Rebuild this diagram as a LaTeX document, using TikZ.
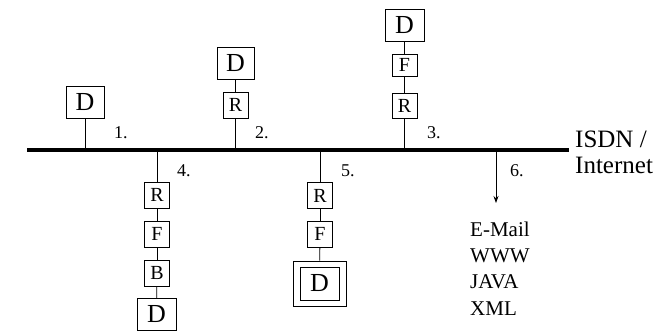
\documentclass[tikz,border=0pt]{standalone}
\usepackage{fontspec}
\setmainfont{Liberation Serif}
\usetikzlibrary{arrows.meta}
\begin{document}
\begin{tikzpicture}[x=1pt,y=-1pt,
  bigbox/.style={draw, line width=1pt, minimum width=38pt, minimum height=32pt, inner sep=0pt, font=\fontsize{26}{26}\selectfont},
  smallbox/.style={draw, line width=1pt, minimum width=25pt, minimum height=26pt, inner sep=0pt, font=\fontsize{20}{20}\selectfont},
  num/.style={anchor=base west, inner sep=0pt, font=\fontsize{18}{18}\selectfont},
  big/.style={anchor=base west, inner sep=0pt, font=\fontsize{25}{25}\selectfont},
  item/.style={anchor=base west, inner sep=0pt, font=\fontsize{21}{21}\selectfont},
  link/.style={line width=0.8pt},
  bus/.style={line width=4pt}]
\useasboundingbox (0,0) rectangle (658,330);
% bus
\coordinate (busL) at (27,150);
\coordinate (busR) at (569,150);
\draw[bus] (busL) -- (busR);
% 1
\node[bigbox] (d1) at (85,102) {D};
\coordinate (c1) at (85,150);
\draw[link] (d1) -- (c1);
\node[num] (n1) at (114,138) {1.};
% 2
\node[bigbox, minimum width=37pt] (d2) at (235.5,63) {D};
\node[smallbox] (r2) at (235.5,105) {R};
\coordinate (c2) at (235.5,150);
\draw[link] (d2) -- (r2);
\draw[link] (r2) -- (c2);
\node[num] (n2) at (255,138) {2.};
% 3
\node[bigbox, minimum width=39pt] (d3) at (404.5,25) {D};
\node[smallbox, minimum height=22pt] (f3) at (404.5,65) {F};
\node[smallbox, minimum height=25pt] (r3) at (404.5,105.5) {R};
\coordinate (c3) at (404.5,150);
\draw[link] (d3) -- (f3);
\draw[link] (f3) -- (r3);
\draw[link] (r3) -- (c3);
\node[num] (n3) at (427,138) {3.};
% 4
\coordinate (c4) at (157,150);
\node[smallbox] (r4) at (157,195) {R};
\node[smallbox] (f4) at (157,234) {F};
\node[smallbox] (b4) at (157,273) {B};
\node[bigbox, minimum width=39pt] (d4) at (156.5,314.5) {D};
\draw[link] (c4) -- (r4);
\draw[link] (r4) -- (f4);
\draw[link] (f4) -- (b4);
\draw[link] (b4) -- (d4);
\node[num] (n4) at (177,176) {4.};
% 5
\coordinate (c5) at (320,150);
\node[smallbox] (r5) at (320,195.5) {R};
\node[smallbox] (f5) at (320,234) {F};
\node[draw, line width=1pt, minimum width=53pt, minimum height=45pt, inner sep=0pt] (d5o) at (319.5,283.5) {};
\node[bigbox, minimum width=39pt, minimum height=33pt] (d5) at (319.5,283.5) {D};
\draw[link] (c5) -- (r5);
\draw[link] (r5) -- (f5);
\draw[link] (f5) -- (d5o);
\node[num] (n5) at (341,176) {5.};
% 6
\coordinate (c6) at (496,152);
\coordinate (a6) at (496,203);
\draw[link, -{Stealth[length=7pt,width=5pt]}] (c6) -- (a6);
\node[num] (n6) at (510,176) {6.};
\node[item] (t1) at (470,236) {E-Mail};
\node[item] (t2) at (470,262) {WWW};
\node[item] (t3) at (470,288.5) {JAVA};
\node[item] (t4) at (470,315) {XML};
% ISDN
\node[big] (isdn) at (575,147) {ISDN /};
\node[big] (inet) at (575,173) {Internet};
\end{tikzpicture}
\end{document}
